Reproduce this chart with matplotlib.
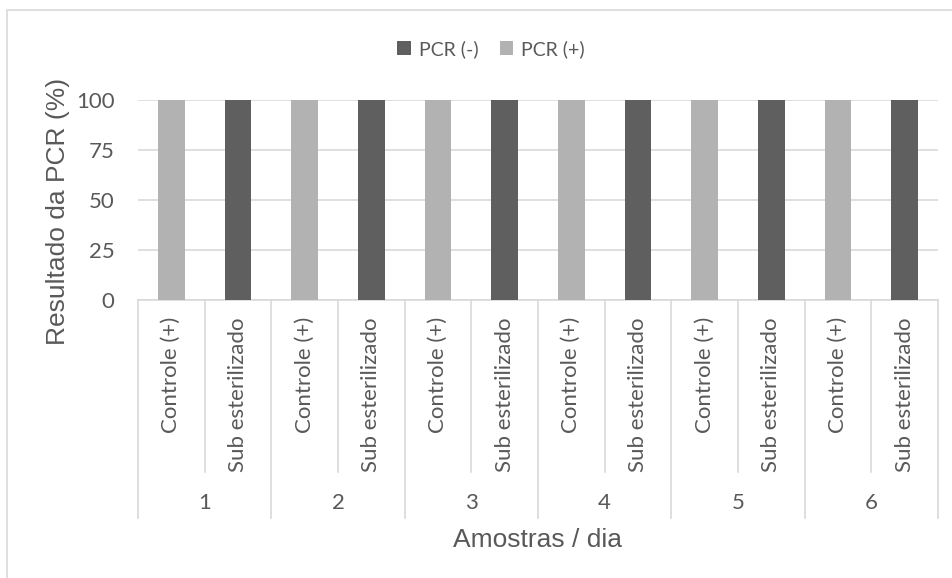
import matplotlib
matplotlib.use("Agg")
import matplotlib.pyplot as plt
from matplotlib.patches import Rectangle
from matplotlib.transforms import blended_transform_factory

# chart data
days = ["1", "2", "3", "4", "5", "6"]
samples = ["Controle (+)", "Sub esterilizado"]
pcr_neg = [0, 100, 0, 100, 0, 100, 0, 100, 0, 100, 0, 100]
pcr_pos = [100, 0, 100, 0, 100, 0, 100, 0, 100, 0, 100, 0]
yticks = [0, 25, 50, 75, 100]

DARK = "#5f5f5f"
LIGHT = "#b2b2b2"
TXT = "#595959"
GRID = "#d9d9d9"
W, H = 953, 578
FS = 16

fig = plt.figure(figsize=(W / 100, H / 100), dpi=100)
ax = fig.add_axes([138 / W, (H - 300) / H, 800 / W, 200 / H])

x = list(range(len(pcr_neg)))
ax.bar(x, pcr_neg, width=0.4, color=DARK, label="PCR (-)", zorder=3)
ax.bar(x, pcr_pos, width=0.4, bottom=pcr_neg, color=LIGHT, label="PCR (+)", zorder=3)

ax.set_xlim(-0.5, len(x) - 0.5)
ax.set_ylim(0, 100)
ax.set_yticks(yticks)
ax.set_yticklabels([str(t) for t in yticks], family="Lato", fontsize=FS, color=TXT)
ax.tick_params(axis="y", length=0, pad=17)
ax.set_xticks([])
ax.grid(axis="y", color=GRID, linewidth=1.2, zorder=0)
for s in ["top", "right", "left"]:
    ax.spines[s].set_visible(False)
ax.spines["bottom"].set_color(GRID)
ax.spines["bottom"].set_linewidth(1.2)

# multi-level category axis
tr = blended_transform_factory(ax.transData, ax.transAxes)
for i in x:
    ax.text(i, -0.085, samples[i % len(samples)], rotation=90, ha="center", va="top",
            family="Lato", fontsize=FS, color=TXT, transform=tr)
for d, day in enumerate(days):
    left = d * len(samples) - 0.5
    ax.plot([left, left], [0, -1.09], color=GRID, lw=1.2, transform=tr, clip_on=False)
    ax.plot([left + 1, left + 1], [0, -0.86], color=GRID, lw=1.2, transform=tr, clip_on=False)
    ax.text(left + 1, -1.015, day, ha="center", va="center",
            family="Lato", fontsize=FS, color=TXT, transform=tr)
right = len(x) - 0.5
ax.plot([right, right], [0, -1.09], color=GRID, lw=1.2, transform=tr, clip_on=False)

ax.text(0.5, -1.2, "Amostras / dia", ha="center", va="center", family="Liberation Sans",
        fontsize=19, color=TXT, transform=ax.transAxes)
ax.text(58 / W, 1 - 211 / H, "Resultado da PCR (%)", rotation=90, ha="center", va="center",
        family="Liberation Sans", fontsize=19, color=TXT, transform=fig.transFigure)

leg = ax.legend(loc="center", bbox_to_anchor=(491 / W, 1 - 49 / H), bbox_transform=fig.transFigure,
                ncol=2, frameon=False, handlelength=0.7, handleheight=0.7, handletextpad=0.4,
                columnspacing=1.1, prop={"family": "Lato", "size": 14})
for t in leg.get_texts():
    t.set_color(TXT)

# chart area border
fig.patches.append(Rectangle((7 / W, -0.1), 1.2, 1.1 - 10 / H, transform=fig.transFigure,
                             fill=False, edgecolor=GRID, linewidth=1.2))

fig.savefig("out.png", dpi=100)
